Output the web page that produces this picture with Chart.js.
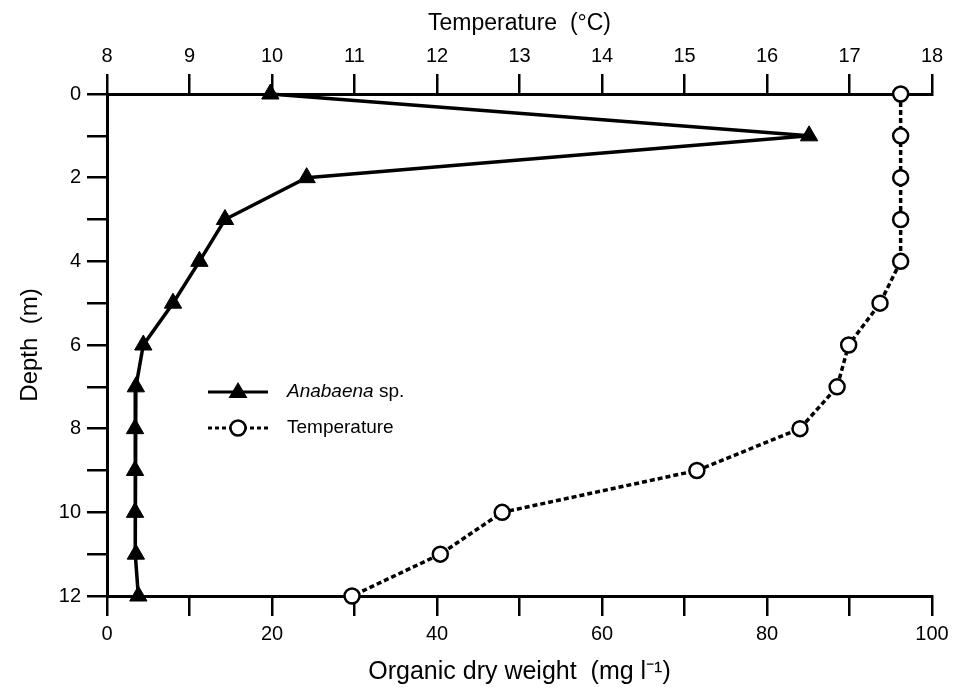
<!DOCTYPE html>
<html>
<head>
<meta charset="utf-8">
<script src="https://cdn.jsdelivr.net/npm/chart.js@4"></script>
<style>
  body { margin: 0; background: #fff; }
</style>
</head>
<body>
<canvas id="depthChart" width="956" height="687"></canvas>
<script>
const depths = [0, 1, 2, 3, 4, 5, 6, 7, 8, 9, 10, 11, 12];
const anabaena = [19.8, 85.1, 24.2, 14.3, 11.2, 8.0, 4.4, 3.5, 3.4, 3.4, 3.4, 3.5, 3.8];
const temperature = [17.62, 17.62, 17.62, 17.62, 17.62, 17.37, 16.99, 16.85, 16.40, 15.15, 12.79, 12.04, 10.97];

const FONT = 'Liberation Sans, Arial, sans-serif';

// legend drawn inside the plot, line + marker + label
const insideLegend = {
  id: 'insideLegend',
  afterDraw(chart) {
    const c = chart.ctx;
    const a = chart.chartArea;
    const x0 = a.left + 101, x1 = a.left + 161, tx = a.left + 180;
    const rows = [a.top + 298, a.top + 334];
    c.save();
    c.strokeStyle = '#000';
    c.lineWidth = 3;
    // Anabaena row
    c.beginPath(); c.moveTo(x0, rows[0]); c.lineTo(x1, rows[0]); c.stroke();
    c.fillStyle = '#000';
    const mx = (x0 + x1) / 2, r = 10;
    c.beginPath();
    c.moveTo(mx, rows[0] - r);
    c.lineTo(mx + r * 0.95, rows[0] + r * 0.6);
    c.lineTo(mx - r * 0.95, rows[0] + r * 0.6);
    c.closePath(); c.fill();
    // Temperature row
    c.setLineDash([4, 3]);
    c.beginPath(); c.moveTo(x0, rows[1]); c.lineTo(x1, rows[1]); c.stroke();
    c.setLineDash([]);
    c.fillStyle = '#fff'; c.lineWidth = 2.5;
    c.beginPath(); c.arc(mx, rows[1], 7.5, 0, Math.PI * 2); c.fill(); c.stroke();
    // labels
    c.fillStyle = '#000';
    c.textBaseline = 'middle';
    c.font = 'italic 19px ' + FONT;
    c.fillText('Anabaena', tx, rows[0]);
    const w = c.measureText('Anabaena').width;
    c.font = '19px ' + FONT;
    c.fillText(' sp.', tx + w, rows[0]);
    c.fillText('Temperature', tx, rows[1]);
    c.restore();
  }
};

const ctx = document.getElementById('depthChart').getContext('2d');

const depthChart = new Chart(ctx, {
  type: 'line',
  data: {
    datasets: [{
      label: 'Anabaena sp.',
      data: depths.map((d, i) => ({ x: anabaena[i], y: d })),
      xAxisID: 'x',
      borderColor: '#000',
      backgroundColor: '#000',
      borderWidth: 3.5,
      pointStyle: 'triangle',
      pointRadius: 10,
      pointBorderWidth: 1,
      tension: 0,
      clip: false
    }, {
      label: 'Temperature',
      data: depths.map((d, i) => ({ x: temperature[i], y: d })),
      xAxisID: 'xTemp',
      borderColor: '#000',
      backgroundColor: '#fff',
      borderWidth: 3.5,
      borderDash: [5, 3],
      pointStyle: 'circle',
      pointRadius: 7.5,
      pointBorderWidth: 2.5,
      tension: 0,
      clip: false
    }]
  },
  options: {
    responsive: false,
    animation: false,
    layout: { padding: { left: 0, right: 24, top: 0, bottom: 0 } },
    plugins: {
      legend: { display: false },
      tooltip: { enabled: false }
    },
    scales: {
      x: {
        type: 'linear',
        position: 'bottom',
        min: 0,
        max: 100,
        afterFit(s) { s.height = 91; },
        border: { display: true, color: '#000', width: 3 },
        grid: { drawOnChartArea: false, drawTicks: true, tickLength: 20, color: '#000', lineWidth: 2.5 },
        ticks: {
          stepSize: 10,
          color: '#000',
          padding: 6,
          maxRotation: 0,
          font: { family: FONT, size: 20 },
          callback: v => (v % 20 === 0 ? v : '')
        },
        title: {
          display: true,
          text: 'Organic dry weight  (mg l\u207B\u00B9)',
          color: '#000',
          font: { family: FONT, size: 25 },
          padding: { top: 2, bottom: 0 }
        }
      },
      xTemp: {
        type: 'linear',
        position: 'top',
        min: 8,
        max: 18,
        afterFit(s) { s.height = 94; },
        border: { display: true, color: '#000', width: 3 },
        grid: { drawOnChartArea: false, drawTicks: true, tickLength: 20, color: '#000', lineWidth: 2.5 },
        ticks: {
          stepSize: 1,
          color: '#000',
          padding: 6,
          maxRotation: 0,
          font: { family: FONT, size: 20 }
        },
        title: {
          display: true,
          text: 'Temperature  (\u00B0C)',
          color: '#000',
          font: { family: FONT, size: 23 },
          padding: { top: 10, bottom: 2 }
        }
      },
      y: {
        type: 'linear',
        position: 'left',
        min: 0,
        max: 12,
        reverse: true,
        afterFit(s) { s.width = 107; },
        border: { display: true, color: '#000', width: 3 },
        grid: { drawOnChartArea: false, drawTicks: true, tickLength: 20, color: '#000', lineWidth: 2.5 },
        ticks: {
          stepSize: 1,
          color: '#000',
          padding: 6,
          font: { family: FONT, size: 20 },
          callback: v => (v % 2 === 0 ? v : '')
        },
        title: {
          display: true,
          text: 'Depth  (m)',
          color: '#000',
          font: { family: FONT, size: 24 },
          padding: { top: 16, bottom: 0 }
        }
      }
    }
  },
  plugins: [insideLegend]
});
</script>
</body>
</html>
